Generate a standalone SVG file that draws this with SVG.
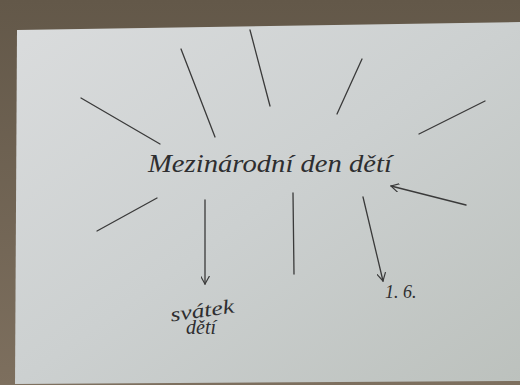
<svg xmlns="http://www.w3.org/2000/svg" width="520" height="385" viewBox="0 0 520 385">
<defs>
<linearGradient id="paper" x1="0" y1="0" x2="1" y2="1">
<stop offset="0" stop-color="#dadcdd"/>
<stop offset="0.5" stop-color="#ccd0d0"/>
<stop offset="1" stop-color="#bcc1bd"/>
</linearGradient>
<linearGradient id="wood" x1="0" y1="0" x2="0" y2="1">
<stop offset="0" stop-color="#635849"/>
<stop offset="1" stop-color="#7d6f5e"/>
</linearGradient>
<marker id="ah" viewBox="0 0 10 10" refX="9" refY="5" markerWidth="9" markerHeight="9" markerUnits="userSpaceOnUse" orient="auto">
<path d="M0,0 L9,5 L0,10" fill="none" stroke="#3a3a3a" stroke-width="1.3"/>
</marker>
<style>
.ln{stroke:#3a3a3a;stroke-width:1.3;fill:none;stroke-linecap:round}
.hw{font-family:"Liberation Serif","DejaVu Serif",serif;font-style:italic;fill:#2e2e30}
</style>
</defs>
<rect width="520" height="385" fill="url(#wood)"/>
<polygon points="17,30 520,22 520,381 15,384" fill="url(#paper)"/>
<g id="connectors">
<line class="ln" x1="81" y1="98" x2="160" y2="144"/>
<line class="ln" x1="181" y1="49" x2="215" y2="137"/>
<line class="ln" x1="250" y1="30" x2="270" y2="106"/>
<line class="ln" x1="362" y1="59" x2="337" y2="114"/>
<line class="ln" x1="485" y1="101" x2="419" y2="134"/>
<line class="ln" x1="157" y1="198" x2="97" y2="231"/>
<line class="ln" x1="205" y1="200" x2="205" y2="284" marker-end="url(#ah)"/>
<line class="ln" x1="293" y1="193" x2="294" y2="274"/>
<line class="ln" x1="363" y1="197" x2="383" y2="281" marker-end="url(#ah)"/>
<line class="ln" x1="466" y1="205" x2="391" y2="186" marker-end="url(#ah)"/>
</g>
<g id="center">
<text class="hw" x="148" y="172" font-size="26" textLength="244" lengthAdjust="spacingAndGlyphs">Mezinárodní den dětí</text>
</g>
<g id="svatek">
<text class="hw" x="170" y="317" font-size="20" textLength="64" lengthAdjust="spacingAndGlyphs" transform="rotate(-8 202 310)">svátek</text>
<text class="hw" x="186" y="334" font-size="20">dětí</text>
</g>
<g id="date">
<text class="hw" x="385" y="298" font-size="18">1. 6.</text>
</g>
</svg>
